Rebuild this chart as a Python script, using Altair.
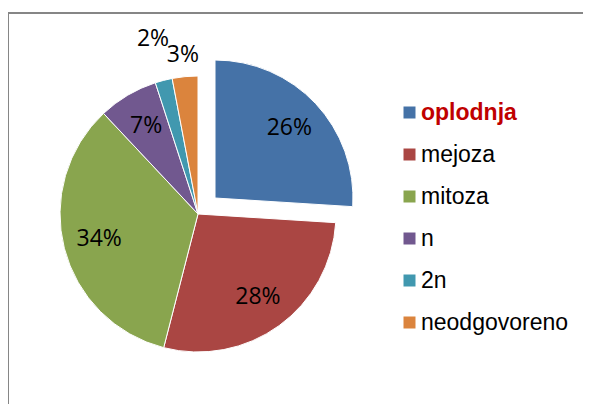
import altair as alt
import pandas as pd

categories = ["oplodnja", "mejoza", "mitoza", "n", "2n", "neodgovoreno"]
values = [26, 28, 34, 7, 2, 3]
colors = ["#4572A7", "#AA4643", "#89A54E", "#71588F", "#4198AF", "#DB843D"]

df = pd.DataFrame({"cat": categories, "value": values, "order": list(range(len(categories)))})

theta_scale = alt.Scale(domain=[0, 100], range=[0, 6.283185307])
color_scale = alt.Scale(domain=categories, range=colors)

base = (
    alt.Chart(df)
    .transform_window(v1="sum(value)", sort=[alt.SortField("order")], frame=[None, 0])
    .transform_calculate(v0="datum.v1 - datum.value", mid="(datum.v1 - datum.value/2)")
    .transform_calculate(
        lr="datum.value <= 2 ? 181 : (datum.value <= 3 ? 160 : 102)",
        label="datum.value + '%'",
    )
)

legend = alt.Legend(
    title=None,
    orient="none",
    legendX=388,
    legendY=93,
    symbolType="square",
    symbolSize=144,
    symbolStrokeWidth=0,
    labelFont="Liberation Sans",
    labelFontSize=23,
    labelOffset=0,
    rowPadding=18,
    padding=0,
    labelColor={"expr": "datum.label == 'oplodnja' ? '#C00000' : '#000000'"},
    labelFontWeight={"expr": "datum.label == 'oplodnja' ? 'bold' : 'normal'"},
)

MAIN_X, MAIN_Y = 188, 206
EXP_X, EXP_Y = 205, 190

main_arcs = base.transform_filter("datum.cat != 'oplodnja'").mark_arc(
    radius=138, stroke="white", strokeWidth=1
).encode(
    theta=alt.Theta("v0:Q", scale=theta_scale),
    theta2="v1:Q",
    color=alt.Color("cat:N", scale=color_scale, legend=legend),
    x=alt.value(MAIN_X),
    y=alt.value(MAIN_Y),
)

exp_arc = base.transform_filter("datum.cat == 'oplodnja'").mark_arc(
    radius=138, stroke="white", strokeWidth=1
).encode(
    theta=alt.Theta("v0:Q", scale=theta_scale),
    theta2="v1:Q",
    color=alt.Color("cat:N", scale=color_scale, legend=legend),
    x=alt.value(EXP_X),
    y=alt.value(EXP_Y),
)

main_text = base.transform_filter("datum.cat != 'oplodnja'").mark_text(
    font="Open Sans", fontSize=23, color="black", align="center", baseline="middle"
).encode(
    theta=alt.Theta("mid:Q", scale=theta_scale),
    radius=alt.Radius("lr:Q", scale=None),
    text="label:N",
    x=alt.value(MAIN_X),
    y=alt.value(MAIN_Y),
)

exp_text = base.transform_filter("datum.cat == 'oplodnja'").mark_text(
    font="Open Sans", fontSize=23, color="black", align="center", baseline="middle"
).encode(
    theta=alt.Theta("mid:Q", scale=theta_scale),
    radius=alt.Radius("lr:Q", scale=None),
    text="label:N",
    x=alt.value(EXP_X),
    y=alt.value(EXP_Y),
)

frame_data = alt.Data(values=[{"a": 1}])
frame_top = alt.Chart(frame_data).mark_rule(stroke="#868686", strokeWidth=2).encode(
    x=alt.value(-3), x2=alt.value(575), y=alt.value(5)
)
frame_left = alt.Chart(frame_data).mark_rule(stroke="#868686", strokeWidth=2).encode(
    x=alt.value(-2), y=alt.value(4), y2=alt.value(396)
)

chart = (
    alt.layer(frame_top, frame_left, main_arcs, exp_arc, main_text, exp_text)
    .properties(
        width=573,
        height=396,
        autosize=alt.AutoSizeParams(type="none"),
        padding={"left": 2, "top": 0, "right": 0, "bottom": 0},
        background="white",
    )
    .configure_view(strokeWidth=0, stroke="transparent")
)

chart.save("out.html", embed_options={"renderer": "svg", "actions": False})
